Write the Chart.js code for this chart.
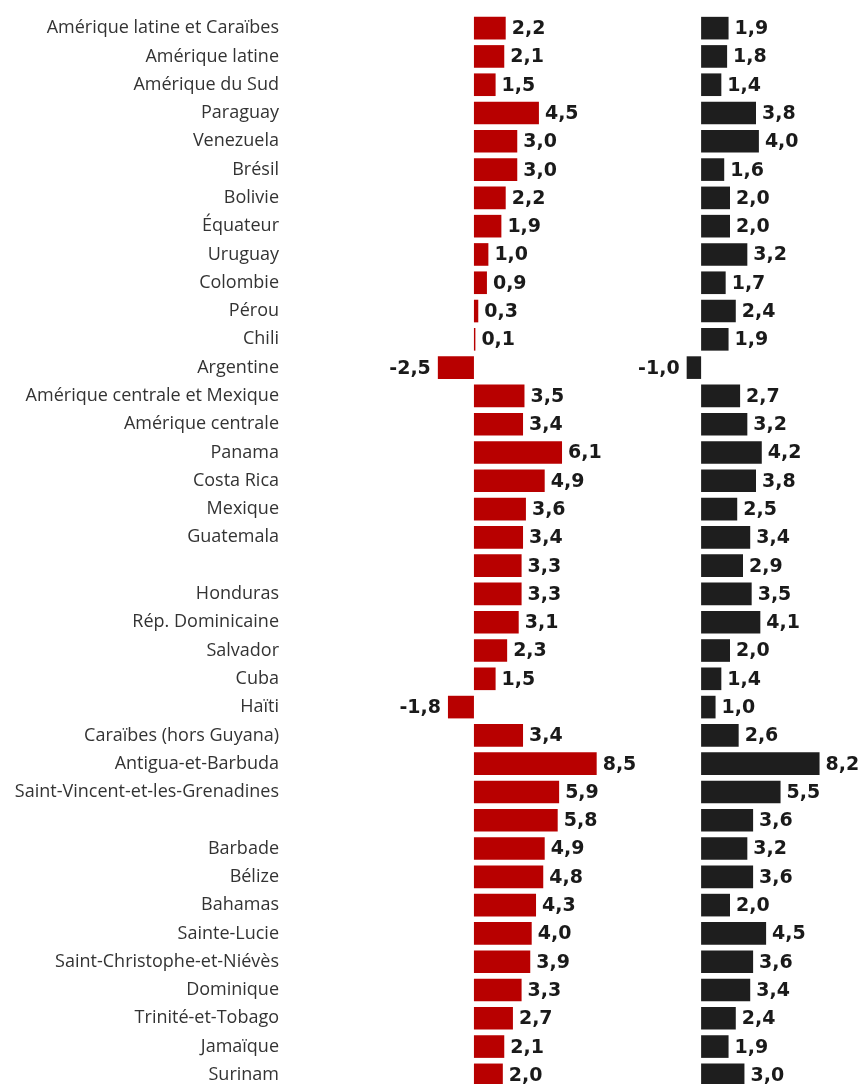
<!DOCTYPE html>
<html lang="fr">
<head>
<meta charset="utf-8">
<script src="https://cdn.jsdelivr.net/npm/chart.js@4.4.1/dist/chart.umd.min.js"></script>
<style>
  html, body { margin: 0; padding: 0; background: #fff; overflow: hidden; }
  #wrap { position: relative; width: 862px; height: 1084px; overflow: hidden; }
  #leftChart { position: absolute; left: 0; top: 0; }
  #rightChart { position: absolute; left: 600px; top: 0; }
</style>
</head>
<body>
<div id="wrap">
  <canvas id="leftChart" width="660" height="1100"></canvas>
  <canvas id="rightChart" width="262" height="1100"></canvas>
</div>
<script>
// Pays / régions (lignes vides = libellés absents dans l'original)
const pays = [
    "Amérique latine et Caraïbes", "Amérique latine", "Amérique du Sud",
    "Paraguay", "Venezuela", "Brésil", "Bolivie", "Équateur", "Uruguay",
    "Colombie", "Pérou", "Chili", "Argentine",
    "Amérique centrale et Mexique", "Amérique centrale", "Panama", "Costa Rica",
    "Mexique", "Guatemala", "", "Honduras", "Rép. Dominicaine", "Salvador",
    "Cuba", "Haïti", "Caraïbes (hors Guyana)", "Antigua-et-Barbuda",
    "Saint-Vincent-et-les-Grenadines", "", "Barbade", "Bélize", "Bahamas",
    "Sainte-Lucie", "Saint-Christophe-et-Niévès", "Dominique",
    "Trinité-et-Tobago", "Jamaïque", "Surinam"
];

// Série rouge
const serieRouge = [
    2.2, 2.1, 1.5, 4.5, 3.0, 3.0, 2.2, 1.9, 1.0, 0.9, 0.3, 0.1, -2.5,
    3.5, 3.4, 6.1, 4.9, 3.6, 3.4, 3.3, 3.3, 3.1, 2.3, 1.5, -1.8,
    3.4, 8.5, 5.9, 5.8, 4.9, 4.8, 4.3, 4.0, 3.9, 3.3, 2.7, 2.1, 2.0
];

// Série noire
const serieNoire = [
    1.9, 1.8, 1.4, 3.8, 4.0, 1.6, 2.0, 2.0, 3.2, 1.7, 2.4, 1.9, -1.0,
    2.7, 3.2, 4.2, 3.8, 2.5, 3.4, 2.9, 3.5, 4.1, 2.0, 1.4, 1.0,
    2.6, 8.2, 5.5, 3.6, 3.2, 3.6, 2.0, 4.5, 3.6, 3.4, 2.4, 1.9, 3.0
];

// Étiquettes de valeurs au bout des barres
const valueLabels = {
    id: "valueLabels",
    afterDatasetsDraw(chart) {
        const ctx = chart.ctx;
        const meta = chart.getDatasetMeta(0);
        const values = chart.data.datasets[0].data;
        ctx.save();
        ctx.font = 'bold 19px "DejaVu Sans"';
        ctx.fillStyle = "#1a1a1a";
        ctx.textBaseline = "middle";
        meta.data.forEach((bar, i) => {
            const v = values[i];
            const txt = v.toFixed(1).replace(".", ",");
            if (v < 0) {
                ctx.textAlign = "right";
                ctx.fillText(txt, bar.x - 7, bar.y + 1);
            } else {
                ctx.textAlign = "left";
                ctx.fillText(txt, bar.x + 6, bar.y + 1);
            }
        });
        ctx.restore();
    }
};

function makeChart(id, data, color, showLabels, xMin, xMax, padRight) {
    const yAxis = {
        display: showLabels,
        grid: { display: false, drawTicks: false },
        border: { display: false },
        ticks: {
            color: "#333",
            padding: 0,
            font: { family: "Open Sans", size: 18 }
        }
    };
    if (showLabels) {
        yAxis.afterFit = (scale) => { scale.width = 279; };
    }
    return new Chart(document.getElementById(id), {
        type: "bar",
        data: {
            labels: pays.slice(),
            datasets: [{
                data: data,
                backgroundColor: color,
                categoryPercentage: 1,
                barPercentage: 0.8
            }]
        },
        options: {
            indexAxis: "y",
            responsive: false,
            animation: false,
            layout: { padding: { top: 14, bottom: 11, right: padRight } },
            plugins: { legend: { display: false }, tooltip: { enabled: false } },
            scales: {
                x: { display: false, min: xMin, max: xMax },
                y: yAxis
            }
        },
        plugins: [valueLabels]
    });
}

makeChart("leftChart", serieRouge, "#b80000", true, -13.5, 11.5, 20);
makeChart("rightChart", serieNoire, "#1e1e1e", false, -7, 11, 2);
</script>
</body>
</html>
